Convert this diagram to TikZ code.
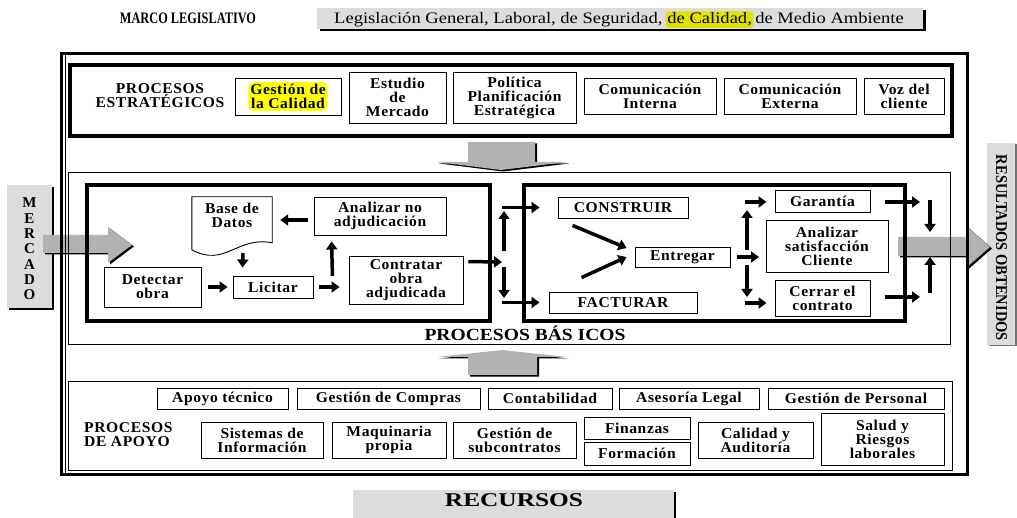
\documentclass[tikz,border=0pt]{standalone}
\usepackage{fontspec}
\setmainfont{Liberation Serif}
\newfontfamily\bxf{Liberation Serif}[FakeStretch=1.04,LetterSpace=4]
\newfontfamily\cnf{Liberation Serif}[FakeStretch=0.77]
\newfontfamily\lgf{Liberation Serif}[FakeStretch=1.16]
\newfontfamily\wdf{Liberation Serif}[FakeStretch=1.3]
\newfontfamily\pbf{Liberation Serif}[FakeStretch=1.15]
\newfontfamily\rsf{Liberation Serif}[FakeStretch=0.88]
\newfontfamily\mcf{Liberation Serif}
\usetikzlibrary{arrows.meta,calc}
\definecolor{lgrey}{RGB}{220,220,220}
\definecolor{agrey}{RGB}{178,178,178}
\definecolor{hlA}{RGB}{255,255,0}
\definecolor{hlB}{RGB}{225,225,0}
\tikzset{
  box/.style={draw, line width=0.9pt, align=center, inner sep=0pt,
    font=\bxf\bfseries\fontsize{15}{14}\selectfont},
  lbl/.style={align=center, inner sep=0pt,
    font=\bxf\bfseries\fontsize{15}{14}\selectfont},
  arr/.style={line width=3.5pt, -{Triangle[length=8pt,width=11pt]}},
  thickframe/.style={draw, line width=4.5pt},
  thinframe/.style={draw, line width=0.8pt},
}
\newcommand\bx[6]{\node[box,minimum width={(#4-#2)*1pt},minimum height={(#5-#3)*1pt}] (#1) at ({(#2+#4)/2},{(#3+#5)/2}) {#6};}
\begin{document}
\begin{tikzpicture}[x=1pt,y=-1pt]
\useasboundingbox (0,0) rectangle (1017,518);
% ---------- top legislative frame
\node[font=\cnf\bfseries\fontsize{16}{16}\selectfont, inner sep=0] (marco) at (188,18) {MARCO LEGISLATIVO};
\fill[black] (320,10) rectangle (925.5,31);
\fill[lgrey] (317,8) rectangle (923,29);
\node[anchor=base west, inner sep=0, font=\lgf\fontsize{16}{16}\selectfont] (lg1) at (334,24) {Legislación General, Laboral, de Seguridad,};
\node[anchor=base west, fill=hlB, rounded corners=3pt, inner xsep=1.5pt, inner ysep=1.5pt, font=\lgf\fontsize{16}{16}\selectfont] (lg2) at ($(lg1.base east)+(3,0)$) {de Calidad,};
\node[anchor=base west, inner sep=0, font=\lgf\fontsize{16}{16}\selectfont] (lg3) at (lg2.base east) {\hspace{1.5pt}de Medio Ambiente};
% ---------- side boxes
\fill[black] (9,187) rectangle (54,310);
\fill[lgrey] (7,185) rectangle (52,308);
\node[align=center, inner sep=0, font=\mcf\bfseries\fontsize{15}{15.3}\selectfont] (merc) at (29.5,249) {M\\E\\R\\C\\A\\D\\O};
\fill[black!55] (988.5,144.5) rectangle (1016.5,346.5);
\fill[lgrey] (987,143) rectangle (1015,345);
\node[rotate=-90, inner sep=0, font=\rsf\bfseries\fontsize{16.5}{16.5}\selectfont] (res) at (1001.5,248) {RESULTADOS OBTENIDOS};
% ---------- grey block arrows (shadow + fill)
\foreach \c/\s in {black/{(2,1.5)}, agrey/{(0,0)}}{
  \fill[\c, shift=\s] (468,142)--(535,142)--(535,162)--(567,162)--(501,170)--(437,162)--(468,162)--cycle;
  \fill[\c, shift=\s] (468,375)--(537,375)--(537,357)--(567,357)--(502,350)--(437,357)--(468,357)--cycle;
  \fill[\c, shift=\s] (43,235)--(108,235)--(108,227)--(132,245)--(108,263)--(108,253)--(43,253)--cycle;
  \fill[\c, shift=\s] (898,237)--(966,237)--(966,226)--(990,247)--(966,268)--(966,256)--(898,256)--cycle;
}
% ---------- outer frame
\draw[line width=3pt] (61,54) rectangle (967,474);
\draw[line width=0.7pt] (65,55.5) -- (65,472.5);
% ---------- strategic processes
\draw[thickframe] (70,65) rectangle (952,136);
\node[lbl] (pe) at (160,95.5) {PROCESOS\\ESTRATÉGICOS};
\bx{gc}{235}{78}{341}{115}{}
\node[lbl, fill=hlA, rounded corners=5pt, inner sep=2pt] (gct) at (gc) {Gestión de\\la Calidad};
\bx{em}{349}{72}{446}{123}{Estudio\\de\\Mercado}
\bx{pp}{453}{72}{576}{123}{Política\\Planificación\\Estratégica}
\bx{ci}{584}{78}{716}{114}{Comunicación\\Interna}
\bx{ce}{724}{78}{856}{114}{Comunicación\\Externa}
\bx{vc}{864}{78}{944}{114}{Voz del\\cliente}
% ---------- basic processes
\draw[thinframe] (68,172) rectangle (950,344);
\draw[thickframe] (87,185) rectangle (490,321);
\draw[thickframe] (524,185) rectangle (905,321);
\node[inner sep=0, font=\pbf\bfseries\fontsize{17}{17}\selectfont] (pb) at (525,333) {PROCESOS BÁS ICOS};
% left part
\node[lbl, minimum width=80pt, minimum height=36pt] (bd) at (232,215) {Base de\\Datos};
\draw[line width=0.9pt] (bd.north west) -- (bd.north east) -- ($(bd.north east)+(0,46)$)
  .. controls ($(bd.north east)+(-35,39)$) and ($(bd.north west)+(33,71)$) .. ($(bd.north west)+(0,53)$) -- cycle;
\bx{ana}{314}{197}{446}{235}{Analizar no\\adjudicación}
\bx{det}{104}{267}{201}{307}{Detectar\\obra}
\bx{lic}{233}{276}{313}{298}{Licitar}
\bx{con}{349}{256}{463}{304}{Contratar\\obra\\adjudicada}
\draw[arr] ($(ana.west)+(-6,4)$) -- ($(bd.east)+(8,5)$);
\draw[arr] ($(bd.south)+(11,20)$) -- ($(lic.north west)+(10,-8)$);
\draw[arr] ($(det.east |- lic.west)+(7,0)$) -- ($(lic.west)+(-5,0)$);
\draw[arr] ($(lic.east)+(6,0)$) -- ($(lic.east -| con.west)+(-9,0)$);
\draw[arr] ($(lic.east)+(19,-11)$) -- ($(ana.south west)+(18,6)$);
% junctions
\coordinate (j1) at (504,258);
\coordinate (j2) at (747,257);
\coordinate (j3) at (930,245);
% right part
\bx{cst}{558}{197}{688}{218}{CONSTRUIR}
\bx{fac}{549}{292}{697}{313}{FACTURAR}
\bx{ent}{635}{247}{730}{267}{Entregar}
\bx{gar}{775}{190}{870}{212}{Garantía}
\bx{sat}{766}{220}{888}{272}{Analizar\\satisfacción\\Cliente}
\bx{cer}{775}{280}{870}{316}{Cerrar el\\contrato}
\draw[arr] ($(con.north east)+(5,6)$) -- ($(j1)+(-2,4)$);
\draw[arr] ($(j1)+(0,-7)$) -- ($(j1)+(0,-47)$);
\draw[arr] ($(j1)+(0,9)$) -- ($(j1)+(0,40)$);
\draw[arr, shorten >=18pt] ($(j1 |- cst.west)+(-1.75,0)$) -- (cst.west);
\draw[arr, shorten >=9pt] ($(j1 |- fac.west)+(-1.75,0)$) -- (fac.west);
\draw[arr] ($(cst.south west)+(15,7)$) -- ($(ent.west)+(-8,-9)$);
\draw[arr] ($(fac.north west)+(33,-14)$) -- ($(ent.west)+(-8,0)$);
\draw[arr] ($(ent.east)+(7,0)$) -- ($(j2)+(12,0)$);
\draw[arr] ($(j2)+(0,-7)$) -- ($(j2)+(0,-47)$);
\draw[arr] ($(j2)+(0,8)$) -- ($(j2)+(0,40)$);
\draw[arr, shorten >=8pt] ($(j2 |- gar.west)+(-2,1)$) -- ($(gar.west)+(0,1)$);
\draw[arr, shorten >=8pt] ($(j2)+(-2,46)$) -- ($(cer.west)+(0,5)$);
\draw[arr] ($(gar.east)+(15,1)$) -- ($(j3)+(-10,-43)$);
\draw[arr] ($(cer.east)+(15,-1)$) -- ($(j3)+(-10,52)$);
\draw[arr] ($(j3)+(0,-45)$) -- ($(j3)+(0,-13)$);
\draw[arr] ($(j3)+(0,48)$) -- ($(j3)+(0,12)$);
% ---------- support processes
\draw[thinframe] (68,381) rectangle (952,470);
\bx{at}{157}{388}{288}{409}{Apoyo técnico}
\bx{gco}{297}{388}{480}{409}{Gestión de Compras}
\bx{cont}{488}{388}{612}{409}{Contabilidad}
\bx{al}{619}{388}{759}{409}{Asesoría Legal}
\bx{gp}{768}{388}{944}{409}{Gestión de Personal}
\node[lbl, align=left, anchor=west] (pa) at (84,434.5) {PROCESOS\\DE APOYO};
\bx{si}{201}{422}{323}{458}{Sistemas de\\Información}
\bx{mp}{332}{422}{446}{458}{Maquinaria\\propia}
\bx{gs}{453}{422}{576}{458}{Gestión de\\subcontratos}
\bx{fin}{584}{417}{690}{439}{Finanzas}
\bx{form}{584}{442}{690}{465}{Formación}
\bx{cal}{698}{422}{813}{458}{Calidad y\\Auditoría}
\bx{sal}{821}{413}{944}{465}{Salud y\\Riesgos\\laborales}
% ---------- resources
\fill[black] (355,492) rectangle (675.5,520);
\fill[lgrey] (353,490) rectangle (673.5,519);
\node[inner sep=0, font=\wdf\bfseries\fontsize{19.5}{19.5}\selectfont] (rec) at (514,500.5) {RECURSOS};
\end{tikzpicture}
\end{document}
